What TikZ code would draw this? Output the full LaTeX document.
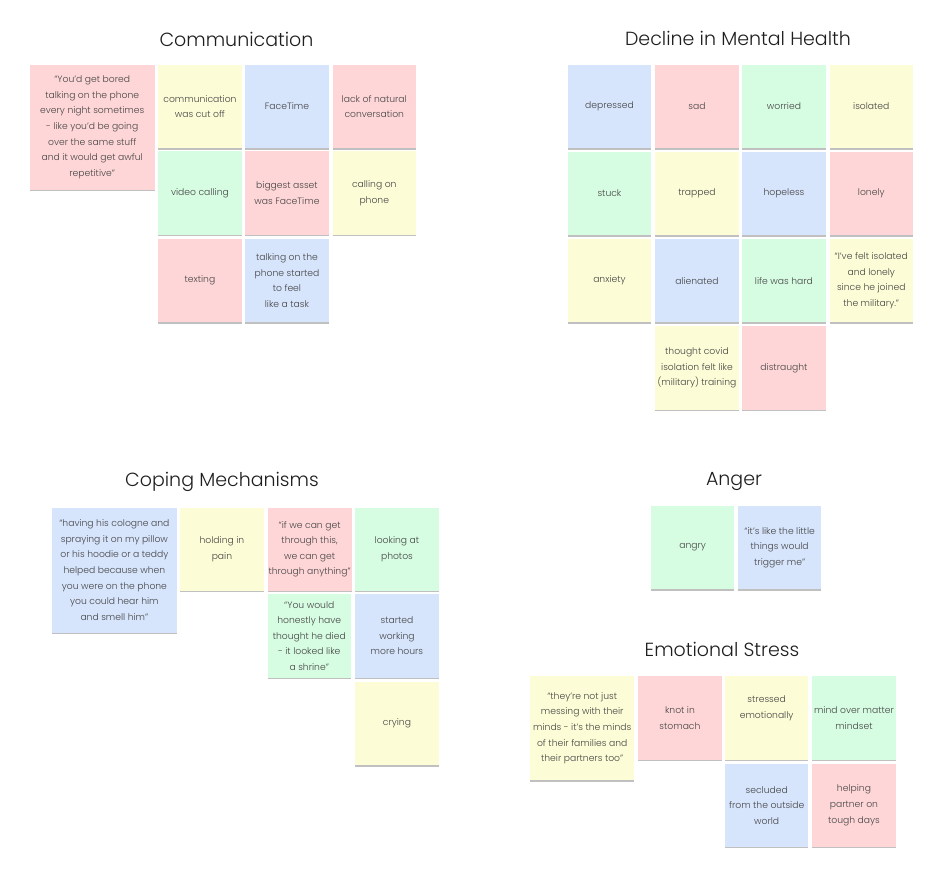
\documentclass[tikz,border=0pt]{standalone}
\usepackage{fontspec}
\setmainfont{Poppins Light}
\usetikzlibrary{shadows}
\definecolor{npink}{RGB}{255,214,215}
\definecolor{nyellow}{RGB}{252,252,214}
\definecolor{nblue}{RGB}{214,228,252}
\definecolor{ngreen}{RGB}{214,252,226}
\definecolor{ntext}{RGB}{70,70,70}
\definecolor{ttext}{RGB}{30,30,30}
\tikzset{
  note/.style={anchor=north west, inner sep=1pt, align=center, text=ntext,
    minimum width=83.5pt, minimum height=83.5pt,
    font=\fontsize{9.2}{15.6}\selectfont,
    drop shadow={shadow xshift=0pt, shadow yshift=-1.4pt, opacity=0.45, fill=black!55}},
  bignote/.style={note, minimum width=125pt, minimum height=125pt},
  midnote/.style={note, minimum width=104pt, minimum height=104pt},
  title/.style={anchor=base, text=ttext, font=\fontsize{19}{22}\selectfont}
}
\begin{document}
\begin{tikzpicture}[x=1pt,y=-1pt]
\useasboundingbox (0,0) rectangle (936,878);
% ---------- Communication
\node[title] (tcom) at (236.5,46.5) {Communication};
\node[bignote, fill=npink] (cq) at (29.5,64.5) {“You’d get bored\\talking on the phone\\every night sometimes\\- like you’d be going\\over the same stuff\\and it would get awful\\repetitive”};
\node[note, fill=nyellow] (c1) at (158,64.5) {communication\\was cut off};
\node[note, fill=nblue] (c2) at (245,64.5) {FaceTime};
\node[note, fill=npink] (c3) at (332.3,64.5) {lack of natural\\conversation};
\node[note, fill=ngreen] (c4) at (158,151) {video calling};
\node[note, fill=npink] (c5) at (245,151) {biggest asset\\was FaceTime};
\node[note, fill=nyellow] (c6) at (332.3,151) {calling on\\phone};
\node[note, fill=npink] (c7) at (158,238.5) {texting};
\node[note, fill=nblue] (c8) at (245,238.5) {talking on the\\phone started\\to feel\\like a task};
% ---------- Decline in Mental Health
\node[title] (tdec) at (738,45) {Decline in Mental Health};
\node[note, fill=nblue] (d1) at (567.5,64.5) {depressed};
\node[note, fill=npink] (d2) at (655,64.5) {sad};
\node[note, fill=ngreen] (d3) at (742,64.5) {worried};
\node[note, fill=nyellow] (d4) at (829.3,64.5) {isolated};
\node[note, fill=ngreen] (d5) at (567.5,151.5) {stuck};
\node[note, fill=nyellow] (d6) at (655,151.5) {trapped};
\node[note, fill=nblue] (d7) at (742,151.5) {hopeless};
\node[note, fill=npink] (d8) at (829.3,151.5) {lonely};
\node[note, fill=nyellow] (d9) at (567.5,238.7) {anxiety};
\node[note, fill=nblue] (d10) at (655,238.7) {alienated};
\node[note, fill=ngreen] (d11) at (742,238.7) {life was hard};
\node[note, fill=nyellow] (d12) at (829.3,238.7) {“I’ve felt isolated\\and lonely\\since he joined\\the military.”};
\node[note, fill=nyellow] (d13) at (655,326) {thought covid\\isolation felt like\\(military) training};
\node[note, fill=npink] (d14) at (742,326) {distraught};
% ---------- Coping Mechanisms
\node[title] (tcop) at (222,486.5) {Coping Mechanisms};
\node[bignote, fill=nblue] (pq) at (51.7,507.3) {“having his cologne and\\spraying it on my pillow\\or his hoodie or a teddy\\helped because when\\you were on the phone\\you could hear him\\and smell him”};
\node[note, fill=nyellow] (p1) at (180,507.3) {holding in\\pain};
\node[note, fill=npink] (p2) at (267.3,507.3) {“if we can get\\through this,\\we can get\\through anything”};
\node[note, fill=ngreen] (p3) at (355,507.3) {looking at\\photos};
\node[note, fill=ngreen] (p4) at (267.3,594) {“You would\\honestly have\\thought he died\\- it looked like\\a shrine”};
\node[note, fill=nblue] (p5) at (355,594) {started\\working\\more hours};
\node[note, fill=nyellow] (p6) at (355,681.7) {crying};
% ---------- Anger
\node[title] (tang) at (734,485) {Anger};
\node[note, fill=ngreen] (a1) at (650.7,505.7) {angry};
\node[note, fill=nblue] (a2) at (737.7,505.7) {“it’s like the little\\things would\\trigger me”};
% ---------- Emotional Stress
\node[title] (temo) at (722,656) {Emotional Stress};
\node[midnote, fill=nyellow] (eq) at (530,676) {“they’re not just\\messing with their\\minds - it’s the minds\\of their families and\\their partners too”};
\node[note, fill=npink] (e1) at (638,676) {knot in\\stomach};
\node[note, fill=nyellow] (e2) at (724.7,676) {stressed\\emotionally\\[6pt]};
\node[note, fill=ngreen] (e3) at (812,676) {mind over matter\\mindset};
\node[note, fill=nblue] (e4) at (724.7,763.3) {secluded\\from the outside\\world};
\node[note, fill=npink] (e5) at (812,763.3) {helping\\partner on\\tough days};
\end{tikzpicture}
\end{document}
